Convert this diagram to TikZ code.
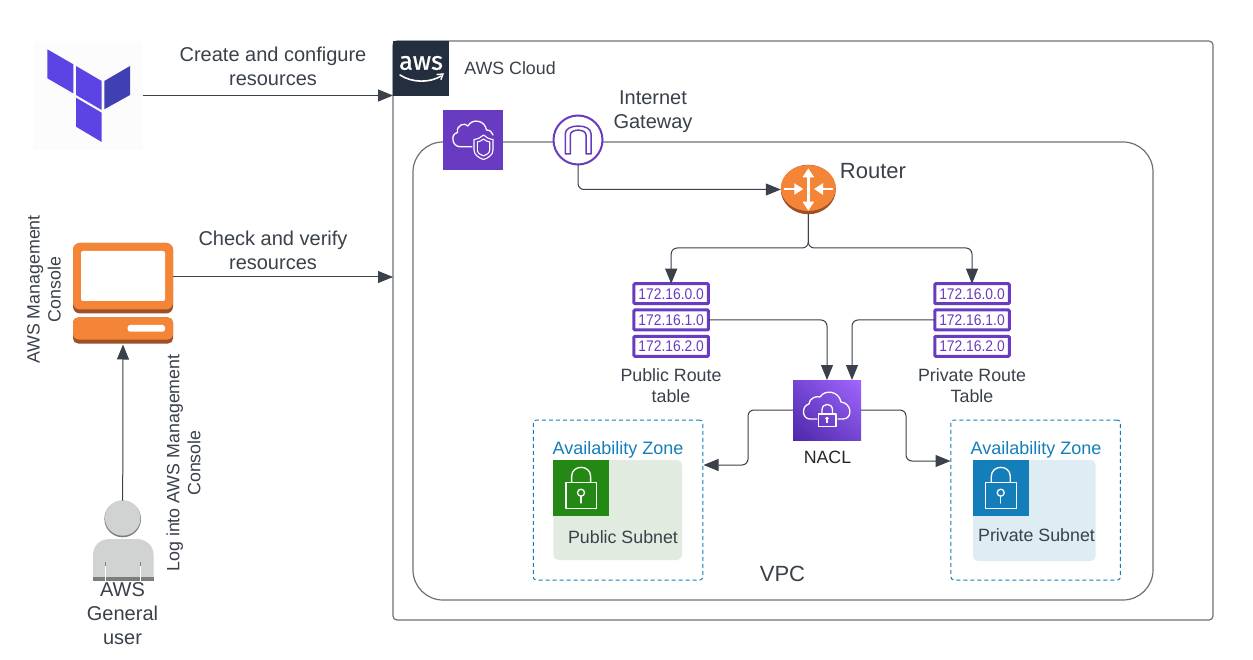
\documentclass[tikz,border=0pt]{standalone}
\usepackage{fontspec}
\setmainfont{Liberation Sans}
\newfontfamily\ipfont[FakeStretch=0.9]{Liberation Sans}
\newfontfamily\logofont[FakeBold=0.8]{Fira Sans}
\usetikzlibrary{arrows.meta,shapes.geometric,shadings}
\definecolor{ink}{HTML}{3A414A}
\definecolor{frameline}{HTML}{6C7178}
\definecolor{awsnavy}{HTML}{232F3E}
\definecolor{tfpurple}{HTML}{5C44E4}
\definecolor{tfdark}{HTML}{4040B2}
\definecolor{awspurple}{HTML}{693BC0}
\definecolor{awsorange}{HTML}{F58536}
\definecolor{orangedark}{HTML}{9D5025}
\definecolor{azblue}{HTML}{147EBA}
\definecolor{pubbg}{HTML}{E2EBDF}
\definecolor{privbg}{HTML}{DEECF4}
\definecolor{pubgreen}{HTML}{248814}
\definecolor{usergrey}{HTML}{D1D2D2}
\definecolor{usershade}{HTML}{7D7D7D}
\definecolor{naclll}{HTML}{4D27A8}
\definecolor{naclmid}{HTML}{7546D4}
\definecolor{naclur}{HTML}{A166FF}
\tikzset{
  every node/.style={inner sep=0pt,outer sep=0pt},
  label18/.style={text=ink,align=center,font=\fontsize{17.8}{21}\selectfont},
  label20/.style={text=ink,align=center,font=\fontsize{20}{24}\selectfont},
  label22/.style={text=ink,align=center,font=\fontsize{22}{26}\selectfont},
  conn/.style={draw=ink,line width=1pt,rounded corners=6pt,-{Triangle[length=15pt,width=12pt]}},
  ipbox/.style={rectangle,draw=awspurple,line width=3pt,fill=white,rounded corners=1pt,
    minimum width=74.5pt,minimum height=20pt,text=awspurple,font=\ipfont\fontsize{15.4}{17}\selectfont},
  azbox/.style={rectangle,draw=azblue,line width=1pt,dash pattern=on 4pt off 3pt,rounded corners=3pt,
    minimum width=169.5pt,minimum height=160pt},
  aztext/.style={text=azblue,font=\fontsize{18}{21}\selectfont},
  iconline/.style={draw=white,line width=1.3pt,line join=round,line cap=round},
  rarrow/.style={draw=white,line width=2.6pt,-{Triangle[length=9pt,width=11pt]}}
}
\newcommand{\lockicon}[2]{%
  \begin{scope}[shift={(#1,#2)}]
    \draw[iconline] (12.7,22.3) rectangle (43.3,48.3);
    \draw[iconline] (18.3,22.3) -- (18.3,16.5) .. controls (18.3,4.3) and (37.3,4.3) .. (37.3,16.5) -- (37.3,22.3);
    \draw[iconline] (27.7,32.7) circle (3.5pt);
    \draw[iconline] (27.7,36.2) -- (27.7,43);
  \end{scope}}
\begin{document}
\begin{tikzpicture}[x=1pt,y=-1pt]
\useasboundingbox (0,0) rectangle (1253,660);
\fill[white] (0,0) rectangle (1253,660);

% frames
\node[rectangle,draw=frameline,line width=1.2pt,rounded corners=4pt,minimum width=820pt,minimum height=579pt] (cloud) at (803,330.5) {};
\node[rectangle,draw=frameline,line width=1.2pt,rounded corners=30pt,minimum width=740pt,minimum height=458pt] (vpc) at (783,371) {};
\node[rectangle,fill=awsnavy,minimum width=56pt,minimum height=55pt] (awslogo) at (421,68.5) {};
\node[text=white,font=\logofont\fontsize{25.5}{26}\selectfont] (awstext) at (421,63) {aws};
\draw[white,line width=1.6pt,line cap=round] (400,75) .. controls (412,83) and (430,83) .. (441,76);
\draw[white,line width=1.4pt,line cap=round] (437,74.5) -- (443,74) -- (441,79.5);
\node[label18] (cloudlabel) at (510,68.5) {AWS Cloud};
\node[label22] (vpclabel) at (782.5,574) {VPC};

% terraform
\node[rectangle,fill=black!1,minimum width=110pt,minimum height=109pt] (tf) at (88,95.5) {};
\fill[tfpurple] (47.3,49.3) -- (73.3,64.3) -- (73.3,93.3) -- (47.3,78.3) -- cycle;
\fill[tfpurple] (76,66) -- (101.7,81) -- (101.7,110) -- (76,95) -- cycle;
\fill[tfdark] (104.3,81) -- (130,66) -- (130,95) -- (104.3,109.3) -- cycle;
\fill[tfpurple] (76,97.7) -- (101.7,112.7) -- (101.7,142) -- (76,126.7) -- cycle;
\node[label20] (createlabel) at (273,66) {Create and configure\\resources};

% console
\fill[orangedark,rounded corners=7pt] (73,243) rectangle (173,313.5);
\fill[awsorange,rounded corners=7pt] (73,243) rectangle (173,309.5);
\node[rectangle,minimum width=100pt,minimum height=70pt] (console) at (123,277) {};
\fill[white,rounded corners=2pt] (81,251) rectangle (165,301);
\fill[orangedark,rounded corners=5pt] (73,317.5) rectangle (173,343.5);
\fill[awsorange,rounded corners=5pt] (73,317.5) rectangle (173,339.5);
\node[rectangle,minimum width=100pt,minimum height=27pt] (consolebase) at (123,331) {};
\fill[white,rounded corners=2.5pt] (127.7,325) rectangle (165,331.7);
\node[label20] (checklabel) at (273,250) {Check and verify\\resources};
\node[label18,rotate=90] (mgmtlabel) at (44,289.5) {AWS Management\\Console};

% user
\node[circle,fill=usershade,minimum size=36.6pt] (userhead) at (122.7,519) {};
\fill[usergrey] (122.7,518) circle (17.7pt);
\fill[usergrey] (93,580.7) -- (93,556) .. controls (93,545) and (100,539) .. (110,539) -- (136,539) .. controls (146,539) and (153.7,545) .. (153.7,556) -- (153.7,580.7) -- cycle;
\fill[usershade] (93,576.7) rectangle (153.7,580.7);
\draw[white,line width=1pt] (105.7,566) -- (105.7,580.7) (140.3,566) -- (140.3,580.7);
\draw[usershade,line width=1pt] (105.7,562) -- (105.7,566) (140.3,562) -- (140.3,566);
\node[label20] (userlabel) at (122.5,614) {AWS\\General\\user};
\node[label18,rotate=90] (loglabel) at (183.5,463) {Log into AWS Management\\Console};

% vpc icon
\node[rectangle,fill=awspurple,minimum size=60pt] (vpcicon) at (473,140) {};
\draw[iconline] (472,146.7) -- (460,146.7) .. controls (452,146.7) and (450,134) .. (457.5,132.5) .. controls (456,125) and (465,122) .. (468,126) .. controls (472,118) and (485,120) .. (486.5,130) .. controls (490,130) and (492,132) .. (493,135);
\draw[white,line width=1.1pt,line join=round,fill=awspurple] (474,139.5) .. controls (478,139) and (481,137.5) .. (483.5,135) .. controls (486,137.5) and (489,139) .. (493,139.5) -- (493,150) .. controls (493,155) and (488,158) .. (483.5,159.5) .. controls (479,158) and (474,155) .. (474,150) -- cycle;
\draw[white,line width=1.1pt,line join=round] (477.3,142) .. controls (480,141.5) and (482,140.5) .. (483.5,139) .. controls (485,140.5) and (487,141.5) .. (489.7,142) -- (489.7,150) .. controls (489.7,153) and (486.5,155) .. (483.5,156) .. controls (480.5,155) and (477.3,153) .. (477.3,150) -- cycle;

% internet gateway
\node[circle,draw=awspurple,line width=2pt,fill=white,minimum size=49pt] (igw) at (578,140) {};
\draw[awspurple,line width=1.5pt,line join=round] (565.3,154) -- (565.3,133.5) .. controls (565.3,123.5) and (591,123.5) .. (591,133.5) -- (591,154) -- (586,154) -- (586,135) .. controls (586,128.5) and (570.3,128.5) .. (570.3,135) -- (570.3,154) -- cycle;
\node[label20] (igwlabel) at (653,112) {Internet\\Gateway};

% router
\node[ellipse,fill=orangedark,minimum width=55pt,minimum height=49.5pt] (router) at (808.3,189.5) {};
\fill[awsorange] (808.3,188) ellipse [x radius=27.5pt,y radius=23pt];
\draw[rarrow,{Triangle[length=9pt,width=11pt]}-{Triangle[length=9pt,width=11pt]}] (808.3,168.3) -- (808.3,210.7);
\draw[rarrow] (784.3,189) -- (803.3,189);
\draw[rarrow] (832.7,189) -- (814,189);
\node[label22] (routerlabel) at (873,171) {Router};
\coordinate (split) at (808.3,248);

% route tables
\node[ipbox] (pub1) at (671.2,293.7) {172.16.0.0};
\node[ipbox] (pub2) at (671.2,320) {172.16.1.0};
\node[ipbox] (pub3) at (671.2,346.3) {172.16.2.0};
\node[ipbox] (priv1) at (972,293.7) {172.16.0.0};
\node[ipbox] (priv2) at (972,320) {172.16.1.0};
\node[ipbox] (priv3) at (972,346.3) {172.16.2.0};
\node[label18] (publabel) at (671,386) {Public Route\\table};
\node[label18] (privlabel) at (972,386) {Private Route\\Table};

% nacl
\node[rectangle,minimum width=68pt,minimum height=60pt] (nacl) at (827,410) {};
\shade[lower left=naclll,lower right=naclmid,upper left=naclmid,upper right=naclur] (793,380) rectangle (861,440);
\draw[iconline] (817,419) -- (810,419) .. controls (802,419) and (801,406) .. (809,404) .. controls (810,397) and (817,396) .. (820,397) .. controls (825,389) and (839,391) .. (841,402) .. controls (852,403) and (853,419) .. (843,419) -- (838,419);
\draw[iconline] (818.5,414) rectangle (836,426.5);
\draw[iconline] (822,414) -- (822,410) .. controls (822,402.5) and (832.5,402.5) .. (832.5,410) -- (832.5,414);
\fill[white] (827,418.5) circle (1.9pt);
\draw[white,line width=1.2pt] (827,419) -- (827,423);
\node[label18,text=black!85] (nacllabel) at (827.5,457) {NACL};
\coordinate (naclinL) at (827,380);
\coordinate (naclinR) at (852,380);

% availability zones
\node[azbox] (azpub) at (618,500) {};
\node[azbox] (azpriv) at (1035.7,500) {};
\fill[pubbg,rounded corners=5pt] (553.3,460) rectangle (682,560);
\fill[pubgreen] (553.3,460) rectangle (609.3,516);
\lockicon{553.3}{460}
\fill[privbg,rounded corners=5pt] (973,460) rectangle (1095.7,561);
\fill[azblue] (973,460) rectangle (1029,516);
\lockicon{973}{460}
\node[aztext] (azpublabel) at (618,449.5) {Availability Zone};
\node[aztext] (azprivlabel) at (1036,449.5) {Availability Zone};
\node[label18] (publicsub) at (623,537) {Public Subnet};
\node[label18] (privatesub) at (1036.5,535) {Private Subnet};
\coordinate (azpubin) at (703.5,465);
\coordinate (azprivin) at (950.5,461);
\coordinate (bendL) at (748,440);
\coordinate (bendR) at (906,440);

% connectors
\draw[conn] (tf.east) -- (tf -| cloud.west);
\draw[conn] (console.east) -- (console -| cloud.west);
\draw[conn] (userhead.north) -- (consolebase.south);
\draw[conn] (igw.south) |- (router.west);
\draw[conn] (router.south) -- (split) -| (pub1.north);
\draw[conn] (router.south) -- (split) -| (priv1.north);
\draw[conn] (pub2.east) -| (naclinL);
\draw[conn] (priv2.west) -| (naclinR);
\draw[conn] (nacl.west) -| (bendL) |- (azpubin);
\draw[conn] (nacl.east) -| (bendR) |- (azprivin);
\end{tikzpicture}
\end{document}
